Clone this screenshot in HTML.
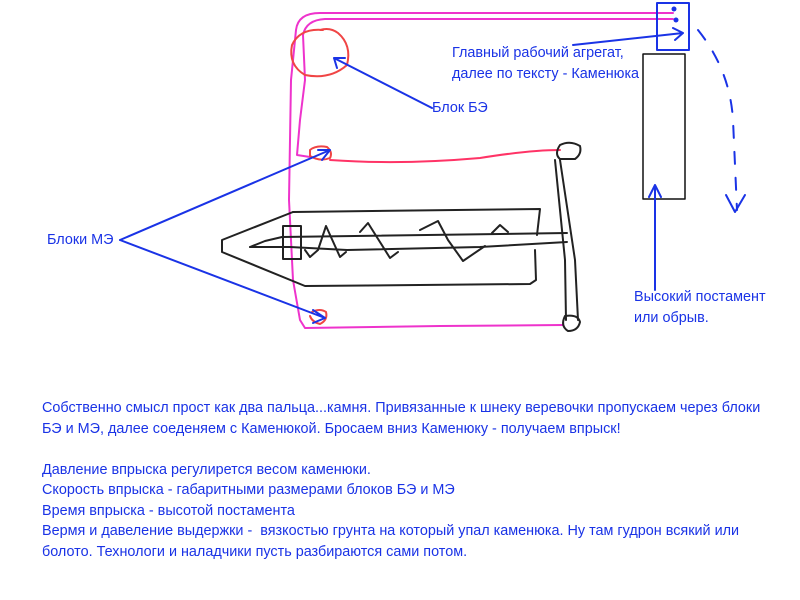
<!DOCTYPE html>
<html><head><meta charset="utf-8"><style>
body{margin:0;background:#fff;width:800px;height:600px;overflow:hidden;position:relative;font-family:"Liberation Sans",sans-serif;}
.t{position:absolute;color:#1a33e6;font-size:14.4px;white-space:nowrap;line-height:20.5px}
</style></head><body>
<svg width="800" height="600" style="position:absolute;left:0;top:0" fill="none" stroke-linecap="round" stroke-linejoin="round">
<g stroke="#ee33cc" stroke-width="2">
<path d="M673,13 L320,13 Q298,13 296,30 L291,80 L289,200 L293,280 L300,320 L305,328 L440,326 L563,325"/>
<path d="M673,19 L325,19 Q306,20 303,35 L305,80 L300,120 L297,155 L310,157"/>
</g>
<path d="M330,160 Q400,165 480,158 Q530,150 560,150" stroke="#ff3366" stroke-width="2"/>
<g stroke="#f04545" stroke-width="2">
<path d="M323,30 Q300,28 292,45 Q288,65 305,75 Q330,80 347,65 Q352,45 338,33 Q330,27 320,30"/>
<path d="M310,150 Q316,145 327,147 Q333,152 330,158 Q320,162 310,156 Z"/>
<path d="M312,312 Q320,308 326,312 Q328,320 320,324 Q312,322 310,316"/>
</g>
<g stroke="#222" stroke-width="2">
<path d="M293,212 L540,209 L537,235"/>
<path d="M293,212 L222,240 L222,252 L305,286 L530,284 L536,280 L535,250"/>
<path d="M250,247 L265,241 L282,237 L567,233"/>
<path d="M250,247 L290,247 L347,250 L480,247 L567,242"/>
<rect x="283" y="226" width="18" height="33"/>
<path d="M305,250 L310,257 L318,250 L326,226 L340,257 L346,252 M360,232 L368,223 L390,258 L398,252 M420,230 L438,221 L448,240 L463,261 L485,246 M492,233 L500,225 L508,232"/>
<path d="M555,160 L565,260 L566,320 M560,160 L575,260 L578,320"/>
<path d="M560,145 Q570,140 580,146 Q582,154 575,159 L560,159 Q554,154 560,145 Z"/>
<path d="M565,316 Q578,314 580,322 Q578,331 568,331 Q560,326 565,316 Z"/>
</g>
<rect x="657" y="3" width="32" height="47" stroke="#1a33e6" stroke-width="2"/>
<circle cx="674" cy="9" r="2.5" fill="#1a33e6"/>
<circle cx="676" cy="20" r="2.5" fill="#1a33e6"/>
<rect x="643" y="54" width="42" height="145" stroke="#111" stroke-width="1.5"/>
<g stroke="#1a33e6" stroke-width="2">
<path d="M573,45 L683,33 M673,28 L683,33 L675,40"/>
<path d="M432,108 L334,58 M337,68 L334,58 L345,58"/>
<path d="M120,240 L330,150 M318,150 L330,150 L322,160"/>
<path d="M120,240 L325,318 M313,310 L325,318 L313,323"/>
<path d="M655,290 L655,185 M649,197 L655,185 L661,197"/>
<path d="M698,30 Q730,70 733,120 L737,210" stroke-dasharray="12 14"/>
<path d="M726,195 L735,212 L745,195"/>
</g>
</svg>
<div class="t" style="left:452px;top:43px">Главный рабочий агрегат,<br>далее по тексту - Каменюка</div>
<div class="t" style="left:432px;top:98px">Блок БЭ</div>
<div class="t" style="left:47px;top:230px">Блоки МЭ</div>
<div class="t" style="left:634px;top:287px">Высокий постамент<br>или обрыв.</div>
<div class="t" style="left:42px;top:398px">Собственно смысл прост как два пальца...камня. Привязанные к шнеку веревочки пропускаем через блоки<br>БЭ и МЭ, далее соеденяем с Каменюкой. Бросаем вниз Каменюку - получаем впрыск!<br><br>Давление впрыска регулирется весом каменюки.<br>Скорость впрыска - габаритными размерами блоков БЭ и МЭ<br>Время впрыска - высотой постамента<br>Вермя и давеление выдержки -&nbsp; вязкостью грунта на который упал каменюка. Ну там гудрон всякий или<br>болото. Технологи и наладчики пусть разбираются сами потом.</div>
</body></html>
